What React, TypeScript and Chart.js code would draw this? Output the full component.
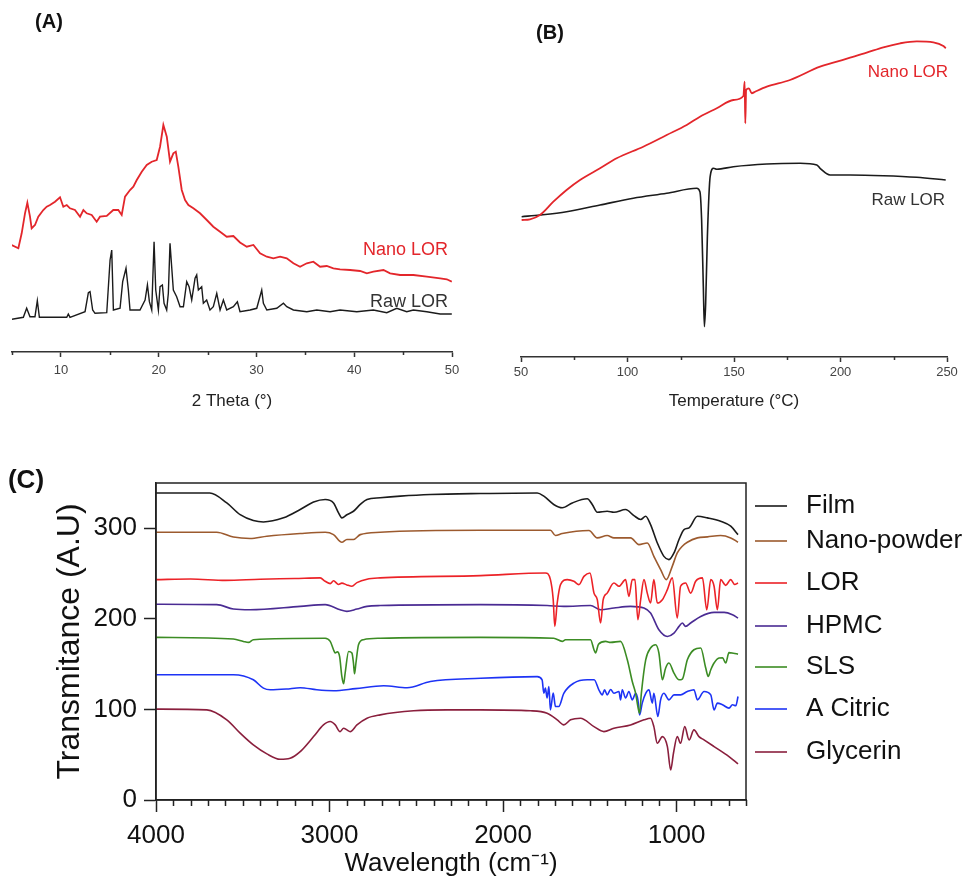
import React, { useEffect, useRef } from 'react';
import { Chart, registerables } from 'chart.js';

Chart.register(...registerables);

const FONT = '"Liberation Sans", Arial, Helvetica, sans-serif';

// ---------------- Panel A : XRD ----------------
const xrdTickValues = [10, 20, 30, 40, 50];
const xrdMinorTicks = [5, 15, 25, 35, 45];
const xrdNanoTheta = [4.97, 5.65, 5.99, 6.33, 6.57, 6.84, 7.01, 7.35, 7.69, 8.2, 8.55, 8.89, 9.4, 9.91, 10.25, 10.6, 10.93, 11.44, 11.96, 12.3, 12.64, 13.15, 13.66, 14.0, 14.69, 15.36, 15.87, 16.22, 16.56, 17.07, 17.41, 17.76, 18.27, 18.78, 19.29, 19.8, 20.14, 20.48, 20.83, 21.16, 21.5, 21.75, 22.01, 22.36, 22.7, 23.04, 23.55, 24.23, 24.92, 25.59, 26.28, 26.96, 27.64, 28.32, 29.01, 29.69, 30.37, 31.06, 31.73, 32.42, 33.1, 33.78, 34.46, 35.15, 35.82, 36.51, 37.19, 37.87, 38.55, 39.58, 40.6, 41.29, 41.96, 42.99, 43.67, 44.69, 46.05, 47.42, 48.79, 49.47, 49.98];
const xrdNanoCounts = [107, 103.7, 118.7, 138.7, 149.3, 135.3, 123.7, 127, 135.3, 142, 145.3, 147, 150.3, 154.7, 145.3, 147, 143.7, 142, 135.3, 142, 138.7, 137, 130.3, 135.3, 136, 142, 142, 137, 155.3, 162, 165.3, 172, 180.3, 187, 190.3, 192, 205.3, 227, 215.3, 190.3, 198.7, 200.3, 185.3, 162, 152, 147, 143.7, 138.7, 132, 125.3, 120.3, 115.3, 116, 109.5, 105.3, 107, 98.7, 95.3, 93.7, 95.3, 93.7, 88.7, 85.3, 88.7, 90.3, 85.3, 86, 83.7, 82.7, 82, 81, 78.7, 80.3, 82, 78.7, 77, 77, 75.3, 73.7, 72.7, 70.3];
const xrdRawTheta = [4.97, 6.16, 6.5, 6.84, 7.35, 7.59, 7.8, 10.6, 10.76, 10.93, 12.47, 12.81, 12.98, 13.25, 13.49, 14.69, 15.03, 15.2, 15.37, 16.05, 16.32, 16.66, 16.9, 17.07, 18.09, 18.61, 18.85, 19.05, 19.29, 19.53, 19.7, 19.97, 20.14, 20.38, 20.55, 20.82, 20.99, 21.16, 21.33, 21.5, 21.84, 22.19, 22.53, 22.87, 23.11, 23.38, 23.72, 23.89, 24.06, 24.4, 24.57, 24.91, 25.25, 25.59, 25.94, 26.28, 26.62, 26.96, 27.64, 28.05, 28.32, 29.35, 30.03, 30.54, 30.71, 31.06, 32.08, 32.76, 33.1, 33.78, 35.15, 36.17, 37.53, 38.55, 40.26, 41.96, 43.33, 44.35, 45.37, 46.05, 47.42, 48.79, 49.98];
const xrdRawCounts = [32.7, 34.7, 43.7, 35.3, 35.3, 51.3, 34.7, 34.7, 38, 34.7, 40.3, 59.3, 60.3, 42, 38.7, 39.3, 92, 102, 42, 43.7, 70.3, 83.7, 62, 42, 42, 52, 67, 50.3, 42, 110.3, 62, 42, 65.3, 67, 48.7, 42, 58.7, 108.7, 85.3, 62, 55.3, 45.3, 45.3, 70.3, 65.3, 52, 73.7, 77, 62, 65.3, 48.7, 52, 42, 45.3, 58.7, 42, 52, 42, 45.3, 50.3, 40.3, 42, 43.7, 62, 48.7, 42, 43.7, 48.7, 45.3, 42, 40.3, 42, 40.3, 42, 40.3, 42, 39.3, 43.7, 40.3, 42, 40.3, 38, 38];

// ---------------- Panel B : DSC ----------------
const dscTickValues = [50, 100, 150, 200, 250];
const dscMinorTicks = [75, 125, 175, 225];
const dscNanoTemp = [50.3, 54.2, 58.9, 65.2, 71.4, 77.7, 87.1, 94.9, 107.4, 118.4, 127.8, 134.0, 141.9, 149.7, 154.4, 155.0, 155.3, 155.7, 157.0, 158.3, 159.9, 165.4, 176.3, 190.4, 196.6, 204.5, 212.3, 220.1, 228.0, 235.8, 243.6, 248.3, 249.4];
const dscNanoHeat = [137, 137.7, 142, 155.3, 167, 177, 188.7, 198.7, 210.3, 222, 232, 240.3, 248.7, 257, 261, 275.3, 233.7, 267, 268.7, 263.7, 265.3, 270.3, 277, 290.3, 294.3, 299.3, 304.3, 309.7, 313.7, 315.7, 314.7, 311, 308.7];
const dscRawTemp = [50.3, 58.9, 71.4, 87.1, 102.7, 118.4, 132.5, 134.0, 134.8, 135.6, 136.1, 136.7, 137.5, 138.8, 140.4, 141.9, 149.7, 165.4, 181.1, 188.9, 190.4, 195.1, 204.5, 220.1, 235.8, 249.4];
const dscRawHeat = [140.3, 142, 145.3, 152, 158.7, 163.7, 168.7, 165.3, 137, 70.3, 30.3, 53.7, 120.3, 180.3, 188.7, 187.7, 190.3, 193, 193.7, 192, 188.7, 182, 182, 181.3, 179.7, 177];

// ---------------- Panel C : FTIR ----------------
const ftirTickValues = [4000, 3000, 2000, 1000];
const ftirMinorTicks = [3900, 3800, 3700, 3600, 3500, 3400, 3300, 3200, 3100, 2900, 2800, 2700, 2600, 2500, 2400, 2300, 2200, 2100, 1900, 1800, 1700, 1600, 1500, 1400, 1300, 1200, 1100, 900, 800, 700, 600];
const ftirYTicks = [0, 100, 200, 300];
const ftirNames = ['Film', 'Nano-powder', 'LOR', 'HPMC', 'SLS', 'A Citric', 'Glycerin'];
const ftirColors = ['#1b1b1b', '#9c5a2e', '#ec2227', '#4a2b93', '#3c8c24', '#1d33f5', '#8a1f3d'];

const filmWavenumber = [4000, 3690, 3592, 3515, 3439, 3381, 3265, 3169, 3092, 3025, 2977, 2948, 2929, 2900, 2862, 2823, 2784, 2708, 2592, 2419, 2130, 1803, 1765, 1708, 1659, 1601, 1515, 1486, 1457, 1400, 1361, 1294, 1246, 1207, 1178, 1150, 1111, 1073, 1044, 1015, 986, 957, 928, 880, 822, 746, 688, 646];
const filmTransmittance = [339, 339, 328, 315, 308.6, 307, 311.5, 320.7, 329, 331.8, 328, 317, 311.5, 315, 318.8, 326.3, 331.8, 333.7, 335.5, 337.3, 338.4, 339, 335.5, 326.3, 322.6, 328, 332.6, 326.3, 317.7, 318.8, 317.7, 320.7, 314, 309.7, 313.3, 304, 283.8, 269, 265.4, 272.8, 287.6, 298.6, 300.5, 313.3, 311.5, 307.8, 302.3, 293];

const nanoWavenumber = [4000, 3650, 3554, 3458, 3361, 3169, 3025, 2977, 2929, 2900, 2862, 2823, 2708, 2130, 1727, 1698, 1659, 1505, 1457, 1400, 1361, 1265, 1217, 1169, 1131, 1092, 1059, 1025, 996, 967, 938, 880, 822, 746, 688, 646];
const nanoTransmittance = [295.6, 295.6, 290.3, 288.7, 291.2, 294.2, 295.6, 293, 284.6, 287.6, 287.6, 293, 295.6, 297.8, 297.8, 292, 294.2, 297.5, 289.4, 292, 289.4, 289.4, 282, 283.8, 269, 254.4, 243.3, 258, 272.8, 280.2, 284.6, 289.4, 290.5, 292, 289.4, 284.6];

const lorWavenumber = [4000, 3800, 3600, 3400, 3200, 3054, 3025, 2996, 2977, 2948, 2929, 2900, 2871, 2842, 2784, 2708, 2130, 1756, 1727, 1711, 1702, 1688, 1669, 1630, 1592, 1563, 1534, 1499, 1476, 1457, 1438, 1423, 1400, 1361, 1332, 1294, 1275, 1255, 1240, 1223, 1207, 1188, 1169, 1150, 1131, 1111, 1082, 1053, 1025, 996, 977, 948, 919, 890, 851, 826, 803, 784, 765, 746, 717, 688, 665, 646];
const lorTransmittance = [243.3, 244, 242.5, 243.8, 244.5, 245.2, 241.5, 238.9, 242, 238, 239.5, 237.5, 236, 240, 243.8, 245.2, 247.7, 250.7, 243.3, 221.2, 191.7, 217.5, 237.8, 243.3, 241.5, 237.8, 246.9, 250.7, 228.4, 221.2, 195.4, 221.2, 228.4, 239.6, 236, 243.3, 224.8, 243.3, 243.3, 199, 221.2, 243.3, 228.4, 217.5, 243.3, 217.5, 221.2, 232.3, 245.2, 201, 236, 239.6, 228.4, 241.5, 245.2, 210, 243.3, 236, 210, 243.3, 237, 243.3, 238, 239.6];

const hpmcWavenumber = [4000, 3650, 3554, 3458, 3169, 3025, 2939, 2900, 2842, 2784, 2708, 2130, 1746, 1650, 1496, 1438, 1361, 1265, 1188, 1150, 1102, 1053, 1015, 986, 967, 948, 919, 861, 784, 726, 678, 646];
const hpmcTransmittance = [216.2, 215.7, 210.9, 210.1, 213.8, 215.7, 210.1, 208.3, 210.9, 213.8, 214.7, 215.7, 214.7, 213.8, 214.7, 210.1, 212, 213.8, 212, 206.5, 188, 180.6, 184.2, 191.7, 195.4, 191.7, 195.4, 202.7, 207.2, 207.2, 204.6, 201];

const slsWavenumber = [4000, 3554, 3496, 3467, 3439, 3025, 2996, 2977, 2967, 2955, 2942, 2929, 2919, 2910, 2890, 2871, 2862, 2856, 2848, 2833, 2804, 2708, 2130, 1708, 1659, 1640, 1496, 1476, 1467, 1450, 1409, 1380, 1323, 1284, 1255, 1236, 1223, 1213, 1203, 1178, 1150, 1121, 1102, 1082, 1063, 1044, 1015, 986, 967, 938, 900, 861, 832, 818, 803, 784, 755, 735, 717, 698, 672, 646];
const slsTransmittance = [179.5, 177.7, 175.1, 174, 177, 178.6, 175.1, 165.9, 162.3, 163.5, 158.5, 136.4, 128.3, 140.1, 164, 162.3, 151.2, 139.4, 151, 171.4, 177, 178.6, 179.5, 178.6, 175.1, 177, 177, 165.9, 162.3, 172, 175.1, 174, 175.1, 154.8, 130.5, 117.8, 103, 95.7, 117.8, 154.8, 167.8, 171.4, 162.3, 132.7, 145.7, 151.2, 140.1, 132.7, 133.5, 154.8, 165.9, 167.8, 145.7, 136.4, 143.8, 151.2, 156.7, 157, 151.2, 162.7, 162, 161.1];

const citricWavenumber = [4000, 3554, 3439, 3381, 3342, 3250, 3169, 3073, 2977, 2850, 2688, 2553, 2419, 2130, 1803, 1775, 1765, 1756, 1746, 1736, 1727, 1711, 1698, 1679, 1650, 1592, 1515, 1475, 1448, 1428, 1415, 1400, 1380, 1361, 1332, 1323, 1313, 1294, 1275, 1255, 1236, 1223, 1213, 1198, 1178, 1159, 1140, 1131, 1108, 1092, 1073, 1044, 1015, 977, 938, 900, 880, 842, 803, 784, 765, 736, 698, 678, 659, 646];
const citricTransmittance = [138.3, 138.3, 132.7, 123.5, 121.7, 122.5, 124, 121.7, 120.7, 123, 126.1, 124, 130.9, 134.4, 136.2, 132.7, 117.8, 123.5, 112.6, 125.3, 99.5, 118, 103.2, 103.2, 117.8, 129.1, 132.7, 132.7, 121.7, 116.1, 121.7, 116.1, 122, 117.8, 119.8, 110.6, 121.7, 112.6, 119.8, 110.6, 117.8, 110.6, 94, 107, 117.8, 121.7, 107, 117.8, 92.2, 110.6, 117.8, 110.6, 116.1, 116.1, 119.8, 121.7, 110.6, 119.8, 116.1, 99.5, 107, 105.2, 101.4, 105.2, 104, 114.3];

const glycerinWavenumber = [4000, 3707, 3592, 3515, 3439, 3361, 3285, 3227, 3169, 3092, 3035, 2996, 2967, 2939, 2919, 2900, 2881, 2842, 2784, 2708, 2515, 2322, 2130, 1842, 1746, 1688, 1650, 1611, 1554, 1476, 1419, 1361, 1265, 1188, 1150, 1131, 1111, 1082, 1053, 1034, 1018, 996, 977, 953, 928, 900, 871, 842, 784, 698, 646];
const glycerinTransmittance = [100.3, 99.5, 88.5, 73.8, 60.8, 50.9, 45, 46.1, 53.4, 70, 82.9, 86.6, 82.9, 75.5, 79.3, 77.4, 75.5, 82.9, 90.3, 94, 98.5, 99.5, 99.5, 98.5, 95.7, 88.5, 82.9, 88.5, 90.3, 81, 75.5, 79.2, 82.9, 88.5, 90.3, 81, 62.6, 70, 59, 33.2, 51.6, 70, 62.6, 81, 66.4, 77.4, 70, 66.4, 59, 47.9, 39.8];

const ftirWavenumbers = [filmWavenumber, nanoWavenumber, lorWavenumber, hpmcWavenumber, slsWavenumber, citricWavenumber, glycerinWavenumber];
const ftirTransmittances = [filmTransmittance, nanoTransmittance, lorTransmittance, hpmcTransmittance, slsTransmittance, citricTransmittance, glycerinTransmittance];

const pts = (xs: number[], ys: number[]) => xs.map((x, i) => ({ x, y: ys[i] }));
const plainNumber = (v: any) => String(v);

// ---------------- plugins ----------------
const minorTicksPlugin = {
  id: 'minorTicks',
  afterDraw(chart: any, _args: any, opts: any) {
    if (!opts || !opts.items) return;
    const ctx = chart.ctx;
    for (const it of opts.items) {
      const scale = chart.scales[it.scaleId];
      if (!scale) continue;
      ctx.save();
      ctx.strokeStyle = it.color;
      ctx.lineWidth = it.width;
      ctx.beginPath();
      for (const v of it.values) {
        const px = Math.round(scale.getPixelForValue(v)) + 0.5;
        ctx.moveTo(px, scale.top);
        ctx.lineTo(px, scale.top + it.length);
      }
      ctx.stroke();
      ctx.restore();
    }
  },
};

const textPlugin = {
  id: 'texts',
  afterDraw(chart: any, _args: any, opts: any) {
    if (!opts || !opts.items) return;
    const ctx = chart.ctx;
    for (const t of opts.items) {
      let x = t.x;
      let y = t.y;
      if (t.useScales) {
        x = chart.scales.x.getPixelForValue(t.x);
        y = chart.scales.y.getPixelForValue(t.y);
      }
      ctx.save();
      ctx.font = t.font;
      ctx.fillStyle = t.color;
      ctx.textAlign = t.align || 'left';
      ctx.textBaseline = 'middle';
      ctx.fillText(t.text, x, y);
      ctx.restore();
    }
  },
};

const framePlugin = {
  id: 'frame',
  afterDraw(chart: any, _args: any, opts: any) {
    if (!opts || !opts.show) return;
    const { left, top, right, bottom } = chart.chartArea;
    const ctx = chart.ctx;
    ctx.save();
    ctx.strokeStyle = opts.color;
    ctx.lineWidth = opts.width;
    ctx.strokeRect(left, top, right - left, bottom - top);
    ctx.restore();
  },
};

const sideLegendPlugin = {
  id: 'sideLegend',
  afterDraw(chart: any, _args: any, opts: any) {
    if (!opts || !opts.offsets) return;
    const ctx = chart.ctx;
    const { right, top } = chart.chartArea;
    chart.data.datasets.forEach((ds: any, i: number) => {
      const y = top + opts.offsets[i];
      ctx.save();
      ctx.strokeStyle = ds.borderColor;
      ctx.lineWidth = 1.6;
      ctx.beginPath();
      ctx.moveTo(right + opts.lineStart, y);
      ctx.lineTo(right + opts.lineEnd, y);
      ctx.stroke();
      ctx.font = opts.font;
      ctx.fillStyle = opts.color;
      ctx.textAlign = 'left';
      ctx.textBaseline = 'middle';
      ctx.fillText(ds.label, right + opts.textStart, y);
      ctx.restore();
    });
  },
};

// ---------------- configs ----------------
function xrdConfig(): any {
  return {
    type: 'line',
    data: {
      datasets: [
        { label: 'Nano LOR', data: pts(xrdNanoTheta, xrdNanoCounts), borderColor: '#e3262b', borderWidth: 1.8, pointRadius: 0, tension: 0 },
        { label: 'Raw LOR', data: pts(xrdRawTheta, xrdRawCounts), borderColor: '#1b1b1b', borderWidth: 1.4, pointRadius: 0, tension: 0 },
      ],
    },
    options: {
      responsive: false,
      animation: false,
      devicePixelRatio: 1,
      layout: { padding: { left: 12, right: 38, top: 102, bottom: 0 } },
      scales: {
        x: {
          type: 'linear', min: 5, max: 50,
          afterBuildTicks: (s: any) => { s.ticks = xrdTickValues.map((v) => ({ value: v })); },
          afterFit: (s: any) => { s.height = 78; },
          grid: { display: true, drawOnChartArea: false, drawTicks: true, tickLength: 5, tickColor: '#333', tickWidth: 1.5 },
          border: { display: true, color: '#333', width: 1.5 },
          ticks: { padding: 6, color: '#444', font: { family: FONT, size: 13 }, maxRotation: 0, autoSkip: false, callback: plainNumber },
          title: { display: true, text: '2 Theta (°)', color: '#222', font: { family: FONT, size: 17 }, padding: { top: 0, bottom: 18 } },
        },
        y: { type: 'linear', display: false, min: 0, max: 250 },
      },
      plugins: {
        legend: { display: false },
        tooltip: { enabled: false },
        minorTicks: { items: [{ scaleId: 'x', values: xrdMinorTicks, length: 3, color: '#333', width: 1.5 }] },
        texts: {
          items: [
            { text: '(A)', x: 49, y: 22, font: `bold 20px ${FONT}`, color: '#111', align: 'center' },
            { text: 'Nano LOR', x: 49.6, y: 102, useScales: true, font: `18px ${FONT}`, color: '#e3262b', align: 'right' },
            { text: 'Raw LOR', x: 49.6, y: 50, useScales: true, font: `18px ${FONT}`, color: '#333', align: 'right' },
          ],
        },
      },
    },
    plugins: [minorTicksPlugin, textPlugin],
  };
}

function dscConfig(): any {
  return {
    type: 'line',
    data: {
      datasets: [
        { label: 'Nano LOR', data: pts(dscNanoTemp, dscNanoHeat), borderColor: '#e3262b', borderWidth: 1.8, pointRadius: 0, cubicInterpolationMode: 'monotone' },
        { label: 'Raw LOR', data: pts(dscRawTemp, dscRawHeat), borderColor: '#1b1b1b', borderWidth: 1.6, pointRadius: 0, cubicInterpolationMode: 'monotone' },
      ],
    },
    options: {
      responsive: false,
      animation: false,
      devicePixelRatio: 1,
      layout: { padding: { left: 21, right: 18, top: 30, bottom: 0 } },
      scales: {
        x: {
          type: 'linear', min: 50, max: 250,
          afterBuildTicks: (s: any) => { s.ticks = dscTickValues.map((v) => ({ value: v })); },
          afterFit: (s: any) => { s.height = 73; },
          grid: { display: true, drawOnChartArea: false, drawTicks: true, tickLength: 5, tickColor: '#333', tickWidth: 1.5 },
          border: { display: true, color: '#333', width: 1.5 },
          ticks: { padding: 3, color: '#444', font: { family: FONT, size: 13 }, maxRotation: 0, autoSkip: false, callback: plainNumber },
          title: { display: true, text: 'Temperature (°C)', color: '#222', font: { family: FONT, size: 17 }, padding: { top: 0, bottom: 18 } },
        },
        y: { type: 'linear', display: false, min: 0, max: 327 },
      },
      plugins: {
        legend: { display: false },
        tooltip: { enabled: false },
        minorTicks: { items: [{ scaleId: 'x', values: dscMinorTicks, length: 3, color: '#333', width: 1.5 }] },
        texts: {
          items: [
            { text: '(B)', x: 50, y: 33, font: `bold 20px ${FONT}`, color: '#111', align: 'center' },
            { text: 'Nano LOR', x: 250.5, y: 285, useScales: true, font: `17px ${FONT}`, color: '#e3262b', align: 'right' },
            { text: 'Raw LOR', x: 249.1, y: 157, useScales: true, font: `17px ${FONT}`, color: '#333', align: 'right' },
          ],
        },
      },
    },
    plugins: [minorTicksPlugin, textPlugin],
  };
}

function ftirConfig(): any {
  return {
    type: 'line',
    data: {
      datasets: ftirNames.map((name, i) => ({
        label: name,
        data: pts(ftirWavenumbers[i], ftirTransmittances[i]),
        borderColor: ftirColors[i],
        borderWidth: 1.6,
        pointRadius: 0,
        cubicInterpolationMode: 'monotone',
      })),
    },
    options: {
      responsive: false,
      animation: false,
      devicePixelRatio: 1,
      layout: { padding: { left: 0, right: 219, top: 43, bottom: 0 } },
      scales: {
        x: {
          type: 'linear', reverse: true, min: 600, max: 4000,
          afterBuildTicks: (s: any) => { s.ticks = ftirTickValues.map((v) => ({ value: v })); },
          afterFit: (s: any) => { s.height = 79; },
          grid: { display: true, drawOnChartArea: false, drawTicks: true, tickLength: 12, tickColor: '#222', tickWidth: 1.5 },
          border: { display: true, color: '#222', width: 1.5 },
          ticks: { padding: 8, color: '#111', font: { family: FONT, size: 26 }, maxRotation: 0, autoSkip: false, callback: plainNumber },
          title: { display: true, text: 'Wavelength (cm⁻¹)', color: '#111', font: { family: FONT, size: 26 }, padding: { top: 0, bottom: 0 } },
        },
        y: {
          type: 'linear', min: 0, max: 350,
          afterBuildTicks: (s: any) => { s.ticks = ftirYTicks.map((v) => ({ value: v })); },
          afterFit: (s: any) => { s.width = 156; },
          grid: { display: true, drawOnChartArea: false, drawTicks: true, tickLength: 12, tickColor: '#222', tickWidth: 1.5 },
          border: { display: true, color: '#222', width: 1.5 },
          ticks: { padding: 7, color: '#111', font: { family: FONT, size: 26 }, autoSkip: false, callback: plainNumber },
          title: { display: true, text: 'Transmitance (A.U)', color: '#111', font: { family: FONT, size: 32 }, padding: { top: 51, bottom: 0 } },
        },
      },
      plugins: {
        legend: { display: false },
        tooltip: { enabled: false },
        minorTicks: { items: [{ scaleId: 'x', values: ftirMinorTicks, length: 6, color: '#222', width: 1.5 }] },
        frame: { show: true, color: '#222', width: 1.5 },
        sideLegend: { offsets: [23, 58, 100, 143, 184, 226, 269], lineStart: 9, lineEnd: 41, textStart: 60, font: `26px ${FONT}`, color: '#111' },
        texts: { items: [{ text: '(C)', x: 26, y: 41, font: `bold 26px ${FONT}`, color: '#111', align: 'center' }] },
      },
    },
    plugins: [minorTicksPlugin, framePlugin, sideLegendPlugin, textPlugin],
  };
}

function ChartBox(props: { left: number; top: number; width: number; height: number; build: () => any }) {
  const ref = useRef<HTMLCanvasElement>(null);
  useEffect(() => {
    const chart = new Chart(ref.current as HTMLCanvasElement, props.build());
    return () => chart.destroy();
  }, []);
  return (
    <canvas
      ref={ref}
      width={props.width}
      height={props.height}
      style={{ position: 'absolute', left: props.left, top: props.top, width: props.width, height: props.height, display: 'block' }}
    />
  );
}

export default function App() {
  return (
    <div style={{ position: 'absolute', left: 0, top: 0, width: 965, height: 879, background: '#ffffff', overflow: 'hidden' }}>
      <ChartBox left={0} top={0} width={490} height={430} build={xrdConfig} />
      <ChartBox left={500} top={0} width={465} height={430} build={dscConfig} />
      <ChartBox left={0} top={440} width={965} height={439} build={ftirConfig} />
    </div>
  );
}
